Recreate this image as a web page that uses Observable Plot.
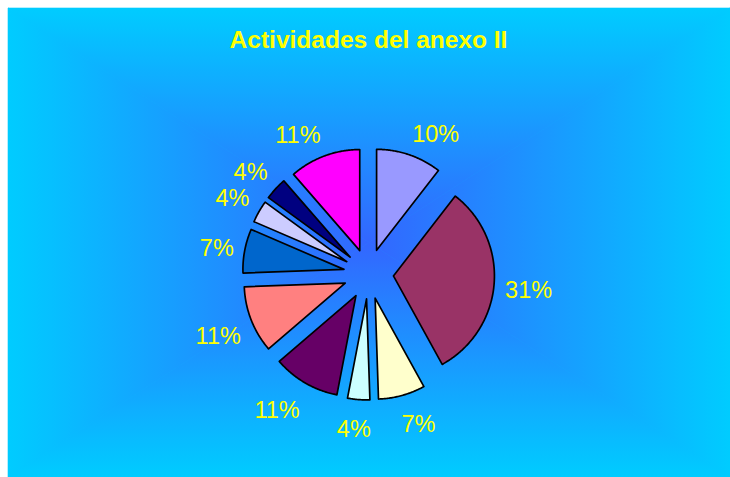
<!DOCTYPE html>
<html><head><meta charset="utf-8">
<script src="https://cdn.jsdelivr.net/npm/d3@7"></script>
<script src="https://cdn.jsdelivr.net/npm/@observablehq/plot@0.6"></script>
<style>html,body{margin:0;padding:0;background:#fff;overflow:hidden}</style>
</head><body><div id="chart"></div>
<script>
// ---- data ----
const chartTitle = "Actividades del anexo II";
const sliceNames = ["Actividad 1","Actividad 2","Actividad 3","Actividad 4","Actividad 5","Actividad 6","Actividad 7","Actividad 8","Actividad 9","Actividad 10"];
const sliceValues = [10.49, 31.49, 7.49, 3.55, 10.7, 10.7, 7.05, 3.55, 3.6, 11.38];
const sliceColors = ["#9999FF","#993366","#FFFFCC","#CCFFFF","#660066","#FF8080","#0066CC","#CCCCFF","#000080","#FF00FF"];

// ---- layout ----
const W = 730, H = 477;
const cx = 368, cy = 273.5;       // pie centre in pixels
const R = 101, EXPLODE = 25;
const LABEL_RX = 137, LABEL_RY = 143, LABEL_DY = 4;
const LABEL_SIZE = 23.5;
const font = "'Liberation Sans', Arial, Helvetica, sans-serif";

const total = d3.sum(sliceValues);
let acc = 0;
const slices = sliceValues.map((v, i) => {
  const a0 = acc / total * 2 * Math.PI;
  acc += v;
  const a1 = acc / total * 2 * Math.PI;
  const m = (a0 + a1) / 2;
  return {name: sliceNames[i], value: v, color: sliceColors[i], a0, a1, m,
          label: Math.round(v / total * 100) + "%"};
});

const polyPts = [];
for (const s of slices) {
  const ox = EXPLODE * Math.sin(s.m), oy = -EXPLODE * Math.cos(s.m);
  polyPts.push({name: s.name, color: s.color, x: ox, y: oy});
  const n = Math.max(8, Math.ceil((s.a1 - s.a0) / 0.01));
  for (let k = 0; k <= n; k++) {
    const t = s.a0 + (s.a1 - s.a0) * k / n;
    polyPts.push({name: s.name, color: s.color, x: ox + R * Math.sin(t), y: oy - R * Math.cos(t)});
  }
}

const ctx = document.createElement("canvas").getContext("2d");
ctx.font = `${LABEL_SIZE}px ${font}`;
const clamp = v => Math.max(-1, Math.min(1, v));
const labels = slices.map(s => {
  const sn = Math.sin(s.m), cs = Math.cos(s.m);
  const w = ctx.measureText(s.label).width, h = 17;
  return {text: s.label,
          x: LABEL_RX * sn + (w / 2) * clamp(3 * sn),
          y: -LABEL_RY * cs - (h / 2) * clamp(2 * cs) + LABEL_DY};
});

const svg = Plot.plot({
  width: W, height: H,
  margin: 0,
  style: {background: "#ffffff", fontFamily: font},
  x: {axis: null, domain: [-cx, W - cx], range: [0, W]},
  y: {axis: null, domain: [-cy, H - cy], range: [0, H]},
  color: {type: "identity"},
  marks: [
    Plot.line(polyPts, {x: "x", y: "y", z: "name", fill: "color", stroke: "#000000",
      strokeWidth: 1.7, curve: "linear-closed", strokeLinejoin: "round"}),
    Plot.text(labels, {x: "x", y: "y", text: "text", fill: "#FFFF00", fontSize: LABEL_SIZE,
      fontFamily: font, textAnchor: "middle", lineAnchor: "middle"}),
    Plot.text([chartTitle], {frameAnchor: "top", dx: 3, dy: 30, text: d => d,
      fill: "#FFFF00", fontSize: 24.5, fontWeight: "bold", fontFamily: font})
  ]
});

// rectangular "from centre" gradient panel behind the marks
const px0 = 8, py0 = 8, px1 = W, py1 = H;
const gx = (px0 + px1) / 2, gy = (py0 + py1) / 2;
const edge = "#00CCFF", mid = "#3366FF";
const sel = d3.select(svg);
const bg = sel.insert("g", ":first-child");
const defs = bg.append("defs");
const grads = [
  {id: "gT", x1: gx, y1: py0, x2: gx, y2: gy, pts: [[px0,py0],[px1,py0],[gx,gy]]},
  {id: "gB", x1: gx, y1: py1, x2: gx, y2: gy, pts: [[px0,py1],[px1,py1],[gx,gy]]},
  {id: "gL", x1: px0, y1: gy, x2: gx, y2: gy, pts: [[px0,py0],[px0,py1],[gx,gy]]},
  {id: "gR", x1: px1, y1: gy, x2: gx, y2: gy, pts: [[px1,py0],[px1,py1],[gx,gy]]}
];
for (const g of grads) {
  const lg = defs.append("linearGradient").attr("id", g.id).attr("gradientUnits", "userSpaceOnUse")
    .attr("x1", g.x1).attr("y1", g.y1).attr("x2", g.x2).attr("y2", g.y2);
  lg.append("stop").attr("offset", 0).attr("stop-color", edge);
  lg.append("stop").attr("offset", 1).attr("stop-color", mid);
}
bg.append("rect").attr("x", px0).attr("y", py0).attr("width", px1 - px0).attr("height", py1 - py0).attr("fill", edge);
for (const g of grads) {
  bg.append("polygon").attr("points", g.pts.map(p => p.join(",")).join(" "))
    .attr("fill", `url(#${g.id})`).attr("stroke", `url(#${g.id})`).attr("stroke-width", 0.6);
}

document.getElementById("chart").appendChild(svg);
</script>
</body></html>
